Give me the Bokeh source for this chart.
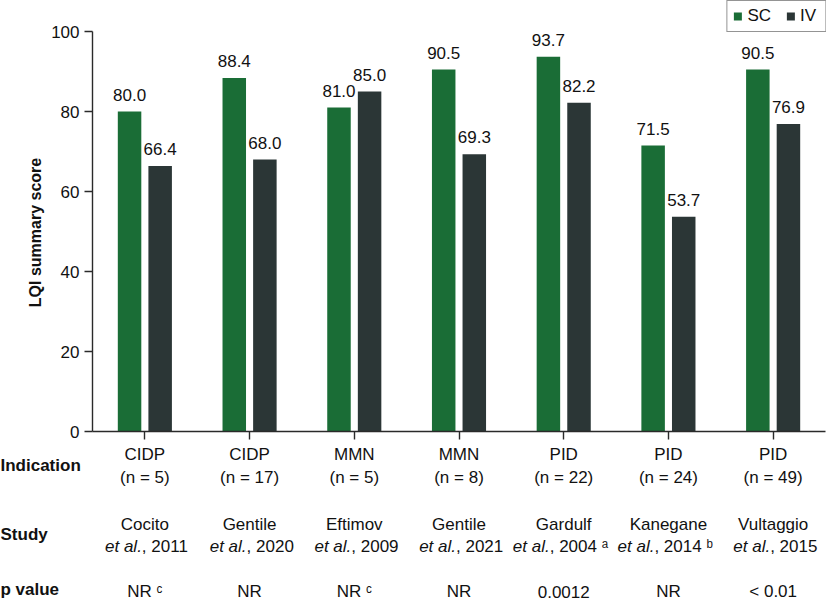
import math
from bokeh.plotting import figure
from bokeh.models import ColumnDataSource, Range1d, FixedTicker, Legend, LegendItem
from bokeh.core.properties import value
from bokeh.embed import file_html
from bokeh.resources import INLINE

# ---------------- data ----------------
indications = ["CIDP", "CIDP", "MMN", "MMN", "PID", "PID", "PID"]
n_patients = [5, 17, 5, 8, 22, 24, 49]
study_authors = ["Cocito", "Gentile", "Eftimov", "Gentile", "Gardulf", "Kanegane", "Vultaggio"]
study_years = [2011, 2020, 2009, 2021, 2004, 2014, 2015]
study_notes = ["", "", "", "", "a", "b", ""]
p_values = ["NR", "NR", "NR", "NR", "0.0012", "NR", "< 0.01"]
p_notes = ["c", "", "c", "", "", "", ""]
sc_scores = [80.0, 88.4, 81.0, 90.5, 93.7, 71.5, 90.5]
iv_scores = [66.4, 68.0, 85.0, 69.3, 82.2, 53.7, 76.9]
y_ticks = [0, 20, 40, 60, 80, 100]
row_headers = ["Indication", "Study", "p value"]
series_names = ["SC", "IV"]
y_title = "LQI summary score"

# ---------------- style / layout ----------------
GREEN = "#1a6d36"
DARK = "#2b3636"
AXIS = "#2a2a2a"
TXT = "#111111"
FONT = "Liberation Sans"
FS = "17px"
BASE_FIX = 7         # rendered alphabetic baseline sits this many px lower

W, H = 826, 601
n = len(indications)
AX_X = 92            # pixel where the y axis sits
px_per_x = (W - 1 - AX_X) / n
x0 = -AX_X / px_per_x
x1 = n + 1 / px_per_x
ZERO_Y = 431         # pixel of value 0
px_per_y = 4.0
y1 = ZERO_Y / px_per_y
y0 = -(H - ZERO_Y) / px_per_y


def ydata(pix):
    return (ZERO_Y - (pix - BASE_FIX)) / px_per_y


def xdata(pix):
    return (pix - AX_X) / px_per_x


sup = {"a": "\u1d43", "b": "\u1d47", "c": "\u1d9c", "": ""}

centers = [i + 0.5 for i in range(n)]
off = 15.3 / px_per_x
bw = 23.5 / px_per_x

p = figure(width=W, height=H, x_range=Range1d(x0, x1), y_range=Range1d(y0, y1),
           output_backend="svg", toolbar_location=None,
           min_border_left=0, min_border_right=0, min_border_top=0, min_border_bottom=0)
p.outline_line_color = None
p.xgrid.visible = False
p.ygrid.visible = False
p.background_fill_color = "white"
p.border_fill_color = "white"

src = ColumnDataSource(dict(
    x_sc=[c - off for c in centers], x_iv=[c + off for c in centers],
    sc=sc_scores, iv=iv_scores,
    sc_txt=[f"{v:.1f}" for v in sc_scores], iv_txt=[f"{v:.1f}" for v in iv_scores],
))
r_sc = p.vbar(x="x_sc", top="sc", width=bw, source=src, fill_color=GREEN, line_color=None)
r_iv = p.vbar(x="x_iv", top="iv", width=bw, source=src, fill_color=DARK, line_color=None)

for xcol, tcol, ycol in [("x_sc", "sc_txt", "sc"), ("x_iv", "iv_txt", "iv")]:
    p.text(x=xcol, y=ycol, text=tcol, source=src, text_align="center",
           text_baseline="alphabetic", y_offset=-10 - BASE_FIX, text_font=value(FONT),
           text_font_size=FS, text_color=TXT)

# ---------------- axes ----------------
p.yaxis.fixed_location = 0
p.yaxis.ticker = FixedTicker(ticks=y_ticks)
p.yaxis.bounds = (0, 100)
p.yaxis.major_label_text_font = FONT
p.yaxis.major_label_text_font_size = FS
p.yaxis.major_label_text_color = TXT
p.yaxis.major_tick_out = 8
p.yaxis.major_tick_in = 0
p.yaxis.minor_tick_line_color = None
p.yaxis.axis_line_color = AXIS
p.yaxis.axis_line_width = 1.4
p.yaxis.major_tick_line_color = AXIS
p.yaxis.major_tick_line_width = 1.4
p.yaxis.major_label_standoff = 5

p.xaxis.fixed_location = 0
p.xaxis.bounds = (0, n)
p.xaxis.ticker = FixedTicker(ticks=centers)
p.xaxis.major_label_overrides = {c: "" for c in centers}
p.xaxis.major_label_text_font_size = FS
p.xaxis.major_tick_out = 8
p.xaxis.major_tick_in = 0
p.xaxis.minor_tick_line_color = None
p.xaxis.axis_line_color = AXIS
p.xaxis.axis_line_width = 1.4
p.xaxis.major_tick_line_color = AXIS
p.xaxis.major_tick_line_width = 1.4

# y axis title
p.text(x=[xdata(35)], y=[(ZERO_Y - 232) / px_per_y], text=[y_title], angle=math.pi / 2,
       text_align="center", text_baseline="middle", text_font=value(FONT),
       text_font_size="16px", text_font_style="bold", text_color=TXT)


# ---------------- table rows under the chart ----------------
def row(texts, pix_y, italic=False, align="center", xoffs=None):
    s = ColumnDataSource(dict(x=centers, y=[ydata(pix_y)] * len(texts), t=texts,
                              xo=xoffs if xoffs is not None else [0] * len(texts)))
    p.text(x="x", y="y", text="t", source=s, x_offset="xo", text_align=align,
           text_baseline="alphabetic", text_font=value(FONT), text_font_size=FS,
           text_color=TXT, text_font_style="italic" if italic else "normal")


row(indications, 461)
row([f"(n = {k})" for k in n_patients], 484)
row(study_authors, 531)
split = [-3 if not nt else -14 for nt in study_notes]
row(["et al."] * n, 553, italic=True, align="right", xoffs=split)
row([f", {yr}" + (" " + sup[nt] if nt else "") for yr, nt in zip(study_years, study_notes)],
    553, align="left", xoffs=split)
row([pv + (" " + sup[nt] if nt else "") for pv, nt in zip(p_values, p_notes)], 598)

hs = ColumnDataSource(dict(x=[xdata(0)] * 3, y=[ydata(472), ydata(541), ydata(596)],
                           t=row_headers))
p.text(x="x", y="y", text="t", source=hs, text_align="left", text_baseline="alphabetic",
       text_font=value(FONT), text_font_size=FS, text_font_style="bold", text_color=TXT)

# ---------------- legend ----------------
legend = Legend(items=[LegendItem(label=series_names[0], renderers=[r_sc]),
                       LegendItem(label=series_names[1], renderers=[r_iv])],
                location="top_right", orientation="horizontal")
legend.margin = 0
legend.padding = 5
legend.spacing = 14
legend.glyph_width = 10
legend.glyph_height = 10
legend.label_standoff = 5
legend.label_text_font = FONT
legend.label_text_font_size = FS
legend.label_text_color = TXT
legend.border_line_color = AXIS
legend.border_line_width = 1.3
legend.label_height = 14
p.add_layout(legend)

open("out.html", "w").write(file_html(p, INLINE))
